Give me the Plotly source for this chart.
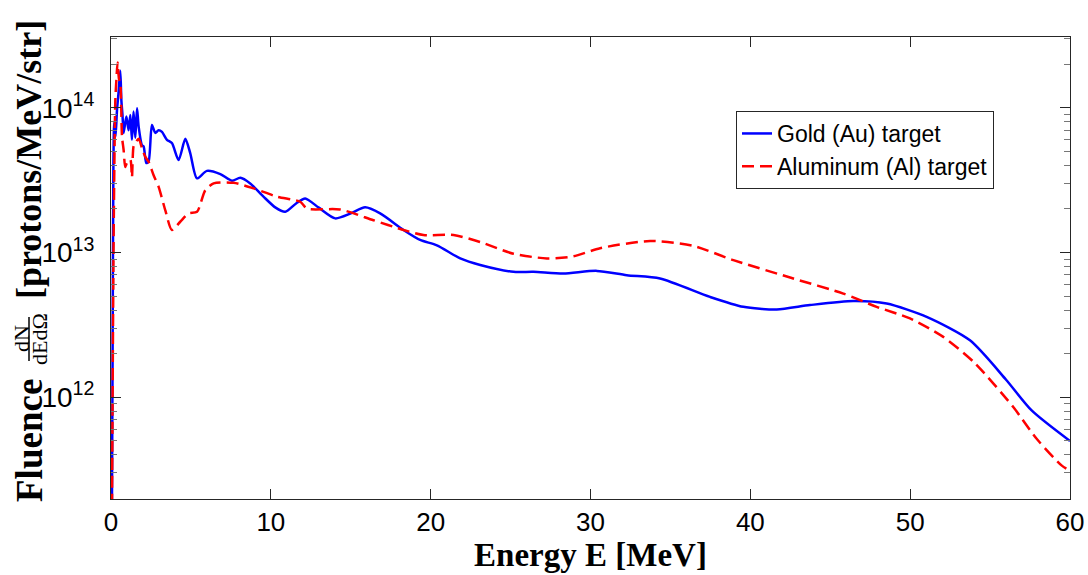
import plotly.graph_objects as go

# ---------------- data ----------------
gold_energy = [0.05, 0.1, 0.15, 0.2, 0.28, 0.375, 0.47, 0.58, 0.65, 0.72, 0.79, 0.96,
               1.10, 1.21, 1.31, 1.41, 1.52, 1.63, 1.73, 1.94, 2.04, 2.21, 2.35, 2.56,
               2.77, 2.98, 3.19, 3.50, 3.81, 4.23, 4.65, 4.96, 5.38, 6.00, 6.84, 7.57,
               8.09, 8.71, 9.54, 10.3, 10.9, 11.6, 12.15, 13.0, 14.03, 15.0, 15.9, 16.84,
               18.3, 19.34, 20.39, 21.85, 23.1, 25.18, 26.43, 28.3, 30.4, 32.27, 34.35,
               37.48, 39.56, 41.65, 43.73, 46.44, 48.53, 51.03, 53.74, 56.0, 57.6, 60.0]
gold_fluence = [1.0e11, 2.0e12, 4.0e13, 7.9e13, 6.3e13, 9.6e13, 1.26e14, 1.8e14, 1.12e14,
                8.9e13, 6.7e13, 8.7e13, 7.0e13, 8.9e13, 6.0e13, 9.4e13, 6.2e13, 9.9e13,
                7.4e13, 5.5e13, 5.4e13, 4.15e13, 4.24e13, 7.6e13, 6.7e13, 7.0e13, 6.8e13,
                6.0e13, 5.7e13, 4.35e13, 6.1e13, 4.84e13, 3.25e13, 3.66e13, 3.48e13,
                3.13e13, 3.28e13, 3.0e13, 2.43e13, 2.04e13, 1.91e13, 2.19e13, 2.36e13,
                2.04e13, 1.72e13, 1.86e13, 2.05e13, 1.86e13, 1.43e13, 1.22e13, 1.12e13,
                9.1e12, 8.2e12, 7.35e12, 7.35e12, 7.16e12, 7.46e12, 6.97e12, 6.61e12,
                4.93e12, 4.21e12, 4.04e12, 4.33e12, 4.62e12, 4.44e12, 3.59e12, 2.47e12,
                1.32e12, 8.1e11, 4.98e11]

aluminum_energy = [0.05, 0.1, 0.15, 0.2, 0.27, 0.34, 0.41, 0.5, 0.58, 0.69, 0.79, 0.89,
                   1.0, 1.21, 1.31, 1.41, 1.52, 1.73, 1.94, 2.15, 2.35, 2.66, 2.98, 3.40,
                   3.81, 4.33, 4.85, 5.38, 5.9, 6.42, 7.67, 8.92, 10.38, 11.84, 12.26,
                   14.34, 16.42, 18.3, 19.55, 21.43, 23.1, 25.18, 27.27, 28.93, 30.6,
                   33.73, 36.44, 38.94, 42.69, 45.82, 47.9, 49.99, 52.07, 54.0, 56.45,
                   57.9, 59.47, 60.0]
aluminum_fluence = [1.0e11, 1.0e12, 8.0e12, 3.2e13, 1.12e14, 1.58e14, 2.05e14, 1.58e14,
                    1.48e14, 6.3e13, 5.1e13, 3.9e13, 4.17e13, 4.37e13, 3.31e13, 5.4e13,
                    5.7e13, 6.1e13, 5.25e13, 4.57e13, 4.24e13, 3.43e13, 2.84e13, 1.95e13,
                    1.43e13, 1.63e13, 1.86e13, 1.91e13, 2.69e13, 3.0e13, 3.03e13, 2.77e13,
                    2.43e13, 2.24e13, 2.01e13, 1.98e13, 1.67e13, 1.43e13, 1.32e13, 1.32e13,
                    1.18e13, 9.8e12, 9.1e12, 9.4e12, 1.07e13, 1.2e13, 1.11e13, 8.85e12,
                    6.61e12, 5.2e12, 4.21e12, 3.5e12, 2.61e12, 1.74e12, 8.55e11, 5.18e11,
                    3.38e11, 3.1e11]

x_ticks = [0, 10, 20, 30, 40, 50, 60]
y_ticks = [1e12, 1e13, 1e14]
y_tick_labels = ["10<sup>12</sup>", "10<sup>13</sup>", "10<sup>14</sup>"]
series_names = ["Gold (Au) target", "Aluminum (Al) target"]

# ---------------- figure ----------------
W, H = 1088, 575
ML, MR, MT, MB = 111, 18, 37, 76
PW, PH = W - ML - MR, H - MT - MB

def px_x(px):
    return (px - ML) / PW

def px_y(py):
    return (H - MB - py) / PH

axis_color = "#262626"
sans = "Liberation Sans, Arial, sans-serif"
serif = "Liberation Serif, Times New Roman, serif"

fig = go.Figure()
fig.add_trace(go.Scatter(
    x=gold_energy, y=gold_fluence, mode="lines", name=series_names[0],
    line=dict(color="#0000FF", width=2.5, shape="spline", smoothing=0.7),
))
fig.add_trace(go.Scatter(
    x=aluminum_energy, y=aluminum_fluence, mode="lines", name=series_names[1],
    line=dict(color="#FF0000", width=2.5, dash="12px,6px", shape="spline", smoothing=0.7),
))

minor_vals = [m * 10 ** e for e in (11, 12, 13, 14) for m in range(2, 10)]

fig.update_layout(
    width=W, height=H, autosize=False,
    margin=dict(l=ML, r=MR, t=MT, b=MB, autoexpand=False),
    paper_bgcolor="white", plot_bgcolor="white",
    font=dict(family=sans, color="black"),
    showlegend=True,
    legend=dict(
        x=px_x(736), y=px_y(111), xanchor="left", yanchor="top",
        bgcolor="white", bordercolor=axis_color, borderwidth=1,
        font=dict(family=sans, size=23, color="black"),
        itemwidth=30, tracegroupgap=0,
    ),
    xaxis=dict(
        range=[0, 60], tickvals=x_ticks, ticks="inside", ticklen=10,
        tickcolor=axis_color, showline=True, linecolor=axis_color, linewidth=1,
        mirror="ticks", showgrid=False, zeroline=False, automargin=False,
        tickfont=dict(family=sans, size=26, color="black"),
        title=dict(text="<b>Energy E [MeV]</b>",
                   font=dict(family=serif, size=33, color="black"), standoff=4),
    ),
    yaxis=dict(
        type="log", range=[11.2967, 14.4886], tickvals=y_ticks, ticktext=y_tick_labels,
        ticks="inside", ticklen=10, tickcolor=axis_color, ticklabelstandoff=10,
        showline=True, linecolor=axis_color, linewidth=1, mirror="ticks",
        showgrid=False, zeroline=False, automargin=False,
        tickfont=dict(family=sans, size=28, color="black"),
        minor=dict(tickvals=minor_vals, ticks="inside", ticklen=6, tickcolor="#777777",
                   showgrid=False),
    ),
)

# y-axis label built from pieces (word, fraction, units)
fig.add_annotation(text="<b>Fluence</b>", xref="paper", yref="paper",
                   x=px_x(29), y=px_y(441), xanchor="center", yanchor="middle",
                   textangle=-90, showarrow=False,
                   font=dict(family=serif, size=37, color="black"))
fig.add_annotation(text="dN", xref="paper", yref="paper",
                   x=px_x(21), y=px_y(339), xanchor="center", yanchor="middle",
                   textangle=-90, showarrow=False,
                   font=dict(family=serif, size=22, color="black"))
fig.add_annotation(text="dEdΩ", xref="paper", yref="paper",
                   x=px_x(39), y=px_y(339), xanchor="center", yanchor="middle",
                   textangle=-90, showarrow=False,
                   font=dict(family=serif, size=22, color="black"))
fig.add_shape(type="line", xref="paper", yref="paper",
              x0=px_x(29), x1=px_x(29), y0=px_y(361), y1=px_y(317),
              line=dict(color="black", width=1.5))
fig.add_annotation(text="<b>[protons/MeV/str]</b>", xref="paper", yref="paper",
                   x=px_x(29), y=px_y(160), xanchor="center", yanchor="middle",
                   textangle=-90, showarrow=False,
                   font=dict(family=serif, size=36, color="black"))

fig.write_html("out.html", config={"responsive": False, "displayModeBar": False},
               post_script="document.body.style.margin='0';document.body.style.overflow='hidden';")
